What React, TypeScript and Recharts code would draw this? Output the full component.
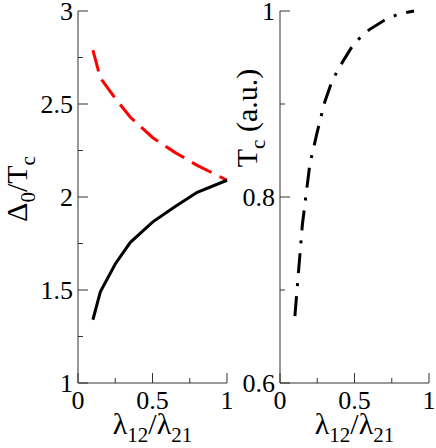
import React from 'react';
import { LineChart, Line, XAxis, YAxis } from 'recharts';

// coupling ratio lambda12/lambda21 (shared x axis)
const ratioX = [0.1, 0.15, 0.25, 0.35, 0.5, 0.65, 0.8, 1.0];
// Delta0/Tc, two branches
const gapDashed = [2.79, 2.64, 2.53, 2.43, 2.32, 2.24, 2.17, 2.09];
const gapSolid = [1.34, 1.49, 1.64, 1.755, 1.865, 1.948, 2.025, 2.09];

// Tc (a.u.)
const tcX = [0.1, 0.15, 0.2, 0.25, 0.3, 0.35, 0.4, 0.5, 0.6, 0.7, 0.8, 0.9];
const tcValues = [0.672, 0.77, 0.835, 0.87, 0.902, 0.925, 0.94, 0.966, 0.98, 0.99, 0.997, 1.0];

const xTicks = [0, 0.25, 0.5, 0.75, 1];
const xMajor = [0, 0.5, 1];
const gapTicks = [1, 1.25, 1.5, 1.75, 2, 2.25, 2.5, 2.75, 3];
const gapMajor = [1, 1.5, 2, 2.5, 3];
const tcTicks = [0.6, 0.7, 0.8, 0.9, 1];
const tcMajor = [0.6, 0.8, 1];

const FONT = "'Liberation Serif', 'DejaVu Serif', serif";
const AXIS = '#333';
const textStyle = { fontFamily: FONT };
const TICK_FS = 26;
const TITLE_FS = 30;
const SUB_FS = 21;

type Side = 'left' | 'right' | 'top' | 'bottom';

// draws inward tick marks (long for labelled values) plus the label on left/bottom
function makeTick(side: Side, majors: number[], showLabel: boolean) {
  return (props: any) => {
    const { x, y, payload } = props;
    const v = payload.value as number;
    const major = majors.some((m) => Math.abs(m - v) < 1e-9);
    const len = major ? 10 : 5;
    let line: React.ReactNode = null;
    let label: React.ReactNode = null;
    if (side === 'left') {
      line = <line x1={x} y1={y} x2={x + len} y2={y} stroke={AXIS} />;
      label = (
        <text x={x - 5} y={y} dy="0.36em" textAnchor="end" fontSize={TICK_FS} style={textStyle} fill="#000">
          {String(v)}
        </text>
      );
    } else if (side === 'right') {
      line = <line x1={x} y1={y} x2={x - len} y2={y} stroke={AXIS} />;
    } else if (side === 'top') {
      line = <line x1={x} y1={y} x2={x} y2={y + len} stroke={AXIS} />;
    } else {
      line = <line x1={x} y1={y} x2={x} y2={y - len} stroke={AXIS} />;
      label = (
        <text x={x} y={y + 26} textAnchor="middle" fontSize={TICK_FS} style={textStyle} fill="#000">
          {String(v)}
        </text>
      );
    }
    return (
      <g>
        {line}
        {showLabel && major ? label : null}
      </g>
    );
  };
}

function RatioTitle({ viewBox }: any) {
  const cx = viewBox.x + viewBox.width / 2;
  return (
    <text x={cx} y={434} textAnchor="middle" fontSize={TITLE_FS} style={textStyle} fill="#000">
      λ<tspan dy={8} fontSize={SUB_FS}>12</tspan>
      <tspan dy={-8}>/λ</tspan>
      <tspan dy={8} fontSize={SUB_FS}>21</tspan>
    </text>
  );
}

function GapTitle({ viewBox }: any) {
  const bx = viewBox.x + 27;
  const cy = 189;
  return (
    <text x={bx} y={cy} transform={`rotate(-90, ${bx}, ${cy})`} textAnchor="middle" fontSize={TITLE_FS} style={textStyle} fill="#000">
      Δ<tspan dy={8} fontSize={SUB_FS}>0</tspan>
      <tspan dy={-8}>/T</tspan>
      <tspan dy={8} fontSize={SUB_FS}>c</tspan>
    </text>
  );
}

function TcTitle({ viewBox }: any) {
  const bx = viewBox.x + 35;
  const cy = 118;
  return (
    <text x={bx} y={cy} transform={`rotate(-90, ${bx}, ${cy})`} textAnchor="middle" fontSize={TITLE_FS} style={textStyle} fill="#000">
      T<tspan dy={8} fontSize={SUB_FS}>c</tspan>
      <tspan dy={-8}> (a.u.)</tspan>
    </text>
  );
}

const gapData = ratioX.map((x, i) => ({ x, dashed: gapDashed[i], solid: gapSolid[i] }));
const tcData = tcX.map((x, i) => ({ x, tc: tcValues[i] }));

export default function App() {
  return (
    <div style={{ position: 'absolute', left: 0, top: 0, width: 436, height: 448, background: '#fff', fontFamily: FONT }}>
      <div style={{ position: 'absolute', left: 0, top: 0 }}>
        <LineChart width={232} height={448} data={gapData} margin={{ top: 11, right: 5, left: 0, bottom: 0 }}>
          <XAxis
            dataKey="x"
            type="number"
            domain={[0, 1]}
            ticks={xTicks}
            interval={0}
            height={65}
            tickSize={0}
            tickMargin={0}
            axisLine={{ stroke: AXIS }}
            tickLine={false}
            tick={makeTick('bottom', xMajor, true)}
            label={{ content: RatioTitle }}
          />
          <XAxis
            xAxisId="top"
            orientation="top"
            type="number"
            domain={[0, 1]}
            ticks={xTicks}
            interval={0}
            height={0}
            tickSize={0}
            tickMargin={0}
            axisLine={{ stroke: AXIS }}
            tickLine={false}
            tick={makeTick('top', xMajor, false)}
          />
          <YAxis
            type="number"
            domain={[1, 3]}
            ticks={gapTicks}
            interval={0}
            width={78}
            tickSize={0}
            tickMargin={0}
            axisLine={{ stroke: AXIS }}
            tickLine={false}
            tick={makeTick('left', gapMajor, true)}
            label={{ content: GapTitle }}
          />
          <YAxis
            yAxisId="right"
            orientation="right"
            type="number"
            domain={[1, 3]}
            ticks={gapTicks}
            interval={0}
            width={0}
            tickSize={0}
            tickMargin={0}
            axisLine={{ stroke: AXIS }}
            tickLine={false}
            tick={makeTick('right', gapMajor, false)}
          />
          <Line
            dataKey="dashed"
            type="linear"
            stroke="#ff0000"
            strokeWidth={3}
            strokeDasharray="22 9"
            dot={false}
            isAnimationActive={false}
          />
          <Line
            dataKey="solid"
            type="linear"
            stroke="#000"
            strokeWidth={3}
            dot={false}
            isAnimationActive={false}
          />
        </LineChart>
      </div>
      <div style={{ position: 'absolute', left: 222, top: 0 }}>
        <LineChart width={214} height={448} data={tcData} margin={{ top: 11, right: 7, left: 0, bottom: 0 }}>
          <XAxis
            dataKey="x"
            type="number"
            domain={[0, 1]}
            ticks={xTicks}
            interval={0}
            height={65}
            tickSize={0}
            tickMargin={0}
            axisLine={{ stroke: AXIS }}
            tickLine={false}
            tick={makeTick('bottom', xMajor, true)}
            label={{ content: RatioTitle }}
          />
          <XAxis
            xAxisId="top"
            orientation="top"
            type="number"
            domain={[0, 1]}
            ticks={xTicks}
            interval={0}
            height={0}
            tickSize={0}
            tickMargin={0}
            axisLine={{ stroke: AXIS }}
            tickLine={false}
            tick={makeTick('top', xMajor, false)}
          />
          <YAxis
            type="number"
            domain={[0.6, 1]}
            ticks={tcTicks}
            interval={0}
            width={58}
            tickSize={0}
            tickMargin={0}
            axisLine={{ stroke: AXIS }}
            tickLine={false}
            tick={makeTick('left', tcMajor, true)}
            label={{ content: TcTitle }}
          />
          <YAxis
            yAxisId="right"
            orientation="right"
            type="number"
            domain={[0.6, 1]}
            ticks={tcTicks}
            interval={0}
            width={0}
            tickSize={0}
            tickMargin={0}
            axisLine={{ stroke: AXIS }}
            tickLine={false}
            tick={makeTick('right', tcMajor, false)}
          />
          <Line
            dataKey="tc"
            type="linear"
            stroke="#000"
            strokeWidth={3}
            strokeDasharray="20 10 3 10"
            dot={false}
            isAnimationActive={false}
          />
        </LineChart>
      </div>
    </div>
  );
}
